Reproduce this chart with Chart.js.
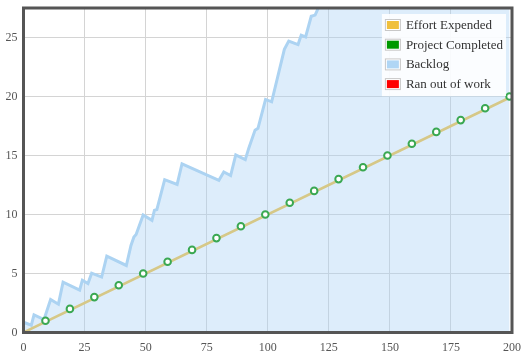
<!DOCTYPE html>
<html>
<head>
<meta charset="utf-8">
<script src="https://cdn.jsdelivr.net/npm/chart.js@4/dist/chart.umd.min.js"></script>
<style>
html,body{margin:0;padding:0;background:#fff;}
#wrap{width:529px;height:357px;position:relative;}
</style>
</head>
<body>
<div id="wrap"><canvas id="c"></canvas></div>
<script>
// ---- data ----
const seriesNames = ["Effort Expended", "Project Completed", "Backlog", "Ran out of work"];
const backlogX = [0, 3.2, 4.3, 8.4, 11.1, 14.3, 16.2, 23, 24.1, 26.4, 27.9, 32, 34.1, 42.1, 44, 45.2, 46.1, 49, 52.6, 53.6, 54.6, 57.8, 62.9, 64.9, 80, 82, 84.8, 86.9, 90.8, 92.2, 94.8, 96, 99.1, 101.6, 106.8, 108.6, 112.4, 113.7, 115.5, 117.8, 119.4, 125, 150, 199];
const backlogY = [0.87, 0.62, 1.5, 1.1, 2.8, 2.4, 4.27, 3.6, 4.43, 4.15, 5.03, 4.7, 6.47, 5.68, 7.38, 8.1, 8.3, 9.95, 9.5, 10.35, 10.42, 12.95, 12.55, 14.3, 12.9, 13.6, 13.3, 15.05, 14.65, 15.6, 17.15, 17.3, 19.75, 19.55, 24.0, 24.7, 24.4, 25.2, 25.05, 26.8, 26.9, 29.5, 35, 45];
const effortX = [0, 200];
const effortY = [0, 20];
const completedX = [9, 19, 29, 39, 49, 59, 69, 79, 89, 99, 109, 119, 129, 139, 149, 159, 169, 179, 189, 199];
const completedY = [1, 2, 3, 4, 5, 6, 7, 8, 9, 10, 11, 12, 13, 14, 15, 16, 17, 18, 19, 20];
const ranOutX = [];
const ranOutY = [];
const xTicks = [0, 25, 50, 75, 100, 125, 150, 175, 200];
const yTicks = [0, 5, 10, 15, 20, 25];

const legendColors = ["#f0c03c", "#009900", "#b0d6f5", "#ff0000"];

function pts(xs, ys){ return xs.map((x,i)=>({x:x, y:ys[i]})); }

const FONT = "'Liberation Serif', 'Times New Roman', serif";

const frameAndLegend = {
  id: 'frameAndLegend',
  afterDraw(chart){
    const ctx = chart.ctx, a = chart.chartArea;
    ctx.save();
    // frame
    ctx.strokeStyle = '#555';
    ctx.lineWidth = 3;
    ctx.strokeRect(a.left, a.top, a.right - a.left, a.bottom - a.top);
    // legend
    ctx.font = '13px ' + FONT;
    let maxW = 0;
    seriesNames.forEach(n => { maxW = Math.max(maxW, ctx.measureText(n).width); });
    const boxW = 16, boxH = 11, padL = 3, gap = 5, padR = 3, rowH = 19.7, padT = 11;
    const w = padL + boxW + gap + maxW + padR;
    const h = padT + rowH * (seriesNames.length - 1) + 12;
    const lx = a.right - 6 - w, ly = a.top + 6;
    ctx.fillStyle = 'rgba(255,255,255,0.88)';
    ctx.fillRect(lx, ly, w, h);
    ctx.textBaseline = 'middle';
    ctx.textAlign = 'left';
    seriesNames.forEach((n, i) => {
      const cy = ly + padT + rowH * i;
      const bx = lx + padL;
      ctx.fillStyle = '#fff';
      ctx.fillRect(bx, cy - boxH/2 - 0.5, boxW, boxH + 1);
      ctx.strokeStyle = '#c8c8c8';
      ctx.lineWidth = 1;
      ctx.strokeRect(bx + 0.5, cy - boxH/2, boxW - 1, boxH);
      ctx.fillStyle = legendColors[i];
      ctx.fillRect(bx + 2, cy - boxH/2 + 1.5, boxW - 4, boxH - 3);
      ctx.fillStyle = '#333';
      ctx.fillText(n, bx + boxW + gap, cy + 0.5);
    });
    ctx.restore();
  }
};

new Chart(document.getElementById('c'), {
  type: 'scatter',
  data: {
    datasets: [
      {
        label: seriesNames[3],
        data: pts(ranOutX, ranOutY),
        showLine: true,
        borderColor: '#ff0000',
        backgroundColor: '#ff0000',
        pointRadius: 0,
        order: 4
      },
      {
        label: seriesNames[1],
        data: pts(completedX, completedY),
        showLine: false,
        pointRadius: 3.3,
        pointBorderWidth: 2,
        pointBorderColor: '#3aa852',
        pointBackgroundColor: '#ffffff',
        order: 0
      },
      {
        label: seriesNames[0],
        data: pts(effortX, effortY),
        showLine: true,
        borderColor: '#d6c887',
        borderWidth: 2.5,
        pointRadius: 0,
        order: 1
      },
      {
        label: seriesNames[2],
        data: pts(backlogX, backlogY),
        showLine: true,
        borderColor: '#acd3f2',
        borderWidth: 3,
        backgroundColor: 'rgba(170,210,245,0.4)',
        fill: 'origin',
        pointRadius: 0,
        tension: 0,
        order: 2
      }
    ]
  },
  options: {
    responsive: true,
    maintainAspectRatio: false,
    animation: false,
    layout: { padding: { top: 8, right: 17, left: 0, bottom: 0 } },
    plugins: {
      legend: { display: false },
      tooltip: { enabled: false }
    },
    scales: {
      x: {
        type: 'linear',
        min: 0, max: 200,
        afterFit(s){ s.height = 24.5; s.paddingLeft = 0; s.paddingRight = 0; },
        afterBuildTicks(s){ s.ticks = xTicks.map(v => ({value: v})); },
        grid: { color: '#d4d4d4', lineWidth: 1, drawTicks: false },
        border: { display: false },
        ticks: { color: '#555', padding: 8, font: { family: FONT, size: 12 }, maxRotation: 0 }
      },
      y: {
        type: 'linear',
        min: 0, max: 27.5,
        afterFit(s){ s.width = 23.5; s.paddingTop = 0; s.paddingBottom = 0; },
        afterBuildTicks(s){ s.ticks = yTicks.map(v => ({value: v})); },
        grid: { color: '#d4d4d4', lineWidth: 1, drawTicks: false },
        border: { display: false },
        ticks: { color: '#555', padding: 6, font: { family: FONT, size: 12 } }
      }
    }
  },
  plugins: [frameAndLegend]
});
</script>
</body>
</html>
